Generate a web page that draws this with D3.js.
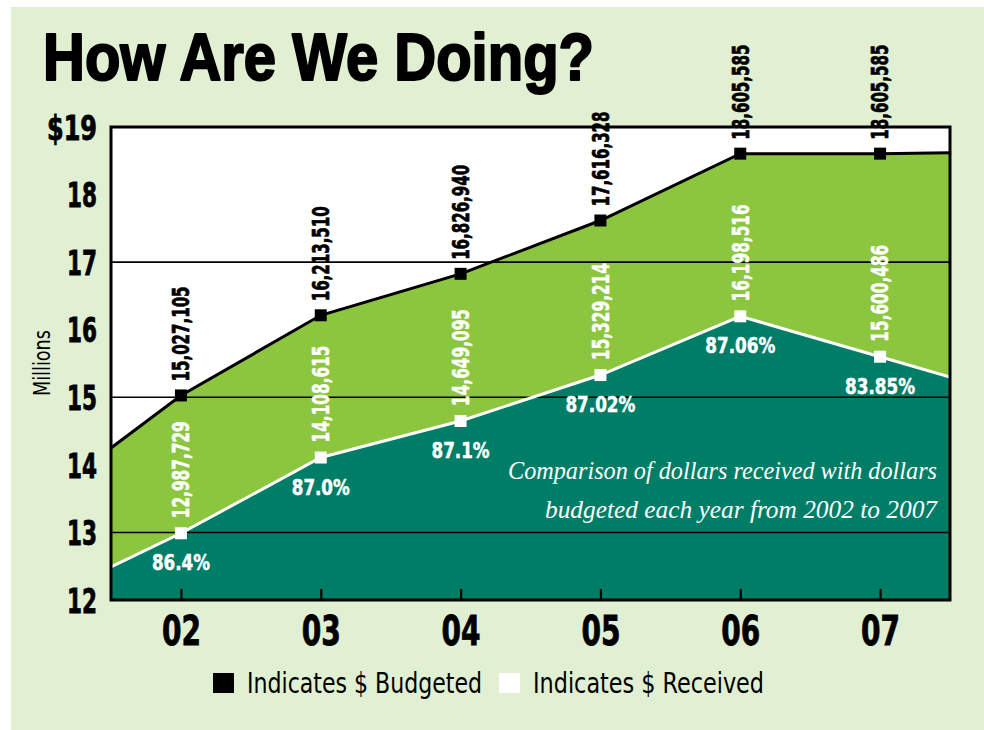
<!DOCTYPE html>
<html><head><meta charset="utf-8">
<script src="https://cdn.jsdelivr.net/npm/d3@7"></script>
<style>body{margin:0;background:#fff} svg{display:block}</style>
</head><body>
<svg id="c" width="984" height="730"></svg>
<script>
// ---- data ----
const years = ["02","03","04","05","06","07"];
const budgeted = [15.027105, 16.213510, 16.826940, 17.616328, 18.605585, 18.605585];
const received = [12.987729, 14.108615, 14.649095, 15.329214, 16.198516, 15.600486];
const budgetedLabels = ["15,027,105","16,213,510","16,826,940","17,616,328","18,605,585","18,605,585"];
const receivedLabels = ["12,987,729","14,108,615","14,649,095","15,329,214","16,198,516","15,600,486"];
const percentLabels = ["86.4%","87.0%","87.1%","87.02%","87.06%","83.85%"];
const budgetedEdges = [14.25, 18.62];   // where the budget line meets the left / right plot edge
const receivedEdges = [12.49, 15.30];   // where the received line meets the left / right plot edge
const yTicks = [12,13,14,15,16,17,18,19];
const yTickLabels = ["12","13","14","15","16","17","18","$19"];
const gridValues = [13,15,17];
const legendItems = ["Indicates $ Budgeted","Indicates $ Received"];
const captionLines = ["Comparison of dollars received with dollars","budgeted each year from 2002 to 2007"];

// ---- layout ----
const C = {bg:"#e1efd3", light:"#8cc63f", dark:"#007d67"};
const L = 111, R = 950, T = 127, B = 600;
const svg = d3.select("#c");
const cond = "'DejaVu Sans Condensed','Liberation Sans Narrow','DejaVu Sans',sans-serif";
const fit = (sel, w) => sel.attr("textLength", w).attr("lengthAdjust","spacingAndGlyphs");

svg.append("rect").attr("x",11).attr("y",7).attr("width",973).attr("height",723).attr("fill",C.bg);

const x = d3.scaleLinear().domain([-0.5, years.length-0.5]).range([L, R]);
const y = d3.scaleLinear().domain([12,19]).range([B, T]);

const series = (vals, edges) => [{i:-0.5, v:edges[0]}, ...vals.map((v,i)=>({i, v})), {i:years.length-0.5, v:edges[1]}];
const bPts = series(budgeted, budgetedEdges);
const rPts = series(received, receivedEdges);

svg.append("defs").append("clipPath").attr("id","plot")
  .append("rect").attr("x",L).attr("y",T).attr("width",R-L).attr("height",B-T);

const g = svg.append("g").attr("clip-path","url(#plot)");
g.append("rect").attr("x",L).attr("y",T).attr("width",R-L).attr("height",B-T).attr("fill","#fff");

const area = d3.area().x(d=>x(d.i)).y0(y(12)).y1(d=>y(d.v));
const line = d3.line().x(d=>x(d.i)).y(d=>y(d.v));
g.append("path").attr("d", area(bPts)).attr("fill", C.light);
g.append("path").attr("d", area(rPts)).attr("fill", C.dark);

g.selectAll(".grid").data(gridValues).join("line")
  .attr("x1",L).attr("x2",R).attr("y1",d=>y(d)).attr("y2",d=>y(d))
  .attr("stroke","#000").attr("stroke-width",1.6);

g.append("path").attr("d", line(bPts)).attr("fill","none").attr("stroke","#000").attr("stroke-width",3);
g.append("path").attr("d", line(rPts)).attr("fill","none").attr("stroke","#fff").attr("stroke-width",3);

// axes
const xAxis = svg.append("g").attr("transform",`translate(0,${B})`)
  .call(d3.axisBottom(x).tickValues(d3.range(years.length)).tickFormat(i=>years[i]).tickSizeInner(-11).tickSizeOuter(0));
xAxis.select(".domain").remove();
xAxis.selectAll(".tick line").attr("stroke","#000").attr("stroke-width",2.2);
xAxis.selectAll(".tick text").attr("y",45).attr("dy",0)
  .attr("font-family",cond).attr("font-weight","bold").attr("font-size",41).attr("fill","#000")
  .attr("stroke","#000").attr("stroke-width",0.8)
  .call(fit, 39);

const yAxis = svg.append("g").attr("transform",`translate(${L},0)`)
  .call(d3.axisLeft(y).tickValues(yTicks).tickFormat((d,i)=>yTickLabels[i]).tickSize(0).tickPadding(14));
yAxis.select(".domain").remove();
yAxis.selectAll(".tick text").attr("dy","0.36em")
  .attr("font-family",cond).attr("font-weight","bold").attr("font-size",34).attr("fill","#000")
  .attr("stroke","#000").attr("stroke-width",0.8)
  .each(function(d,i){ const s = yTickLabels[i]; d3.select(this).call(fit, s.length*15 + (s.includes("$")?5:0)); });

svg.append("text").attr("transform","translate(50,363) rotate(-90)").attr("text-anchor","middle")
  .attr("font-family",cond).attr("font-size",23).attr("fill","#000").text("Millions").call(fit, 66);

// border
svg.append("rect").attr("x",L).attr("y",T).attr("width",R-L).attr("height",B-T)
  .attr("fill","none").attr("stroke","#000").attr("stroke-width",3);

// markers
const ms = 12;
svg.selectAll(".mb").data(budgeted).join("rect")
  .attr("x",(d,i)=>x(i)-ms/2).attr("y",d=>y(d)-ms/2).attr("width",ms).attr("height",ms).attr("fill","#000");
svg.selectAll(".mr").data(received).join("rect")
  .attr("x",(d,i)=>x(i)-ms/2).attr("y",d=>y(d)-ms/2).attr("width",ms).attr("height",ms).attr("fill","#fff");

// value labels
svg.selectAll(".lb").data(budgeted).join("text")
  .attr("transform",(d,i)=>`translate(${x(i)},${y(d)-14}) rotate(-90)`)
  .attr("dy","0.36em").attr("font-family",cond).attr("font-weight","bold").attr("font-size",23)
  .attr("fill","#000").attr("stroke","#000").attr("stroke-width",0.7)
  .text((d,i)=>budgetedLabels[i]).call(fit, 95);
svg.selectAll(".lr").data(received).join("text")
  .attr("transform",(d,i)=>`translate(${x(i)},${y(d)-15}) rotate(-90)`)
  .attr("dy","0.36em").attr("font-family",cond).attr("font-weight","bold").attr("font-size",23)
  .attr("fill","#fff").attr("stroke","#fff").attr("stroke-width",0.5)
  .text((d,i)=>receivedLabels[i]).call(fit, 97);
svg.selectAll(".lp").data(received).join("text")
  .attr("x",(d,i)=>x(i)).attr("y",d=>y(d)+37).attr("text-anchor","middle")
  .attr("font-family",cond).attr("font-weight","bold").attr("font-size",22)
  .attr("fill","#fff").attr("stroke","#fff").attr("stroke-width",0.5)
  .text((d,i)=>percentLabels[i])
  .each(function(d,i){ d3.select(this).call(fit, percentLabels[i].length*12 - 2); });

// caption
const capX = [508, 545], capY = [479, 518], capW = [429, 392];
svg.selectAll(".cap").data(captionLines).join("text")
  .attr("x",(d,i)=>capX[i]).attr("y",(d,i)=>capY[i])
  .attr("font-family","'Liberation Serif','Times New Roman',serif").attr("font-style","italic").attr("font-size",25)
  .attr("fill","#fff").text(d=>d)
  .each(function(d,i){ d3.select(this).call(fit, capW[i]); });

// title
svg.append("text").attr("x",43).attr("y",80)
  .attr("font-family","'Liberation Sans',Arial,sans-serif").attr("font-weight","bold").attr("font-size",67)
  .attr("fill","#000").attr("stroke","#000").attr("stroke-width",2.2).attr("stroke-linejoin","round")
  .text("How Are We Doing?").call(fit, 551);

// legend
const legX = [213, 499], legFill = ["#000","#fff"], legW = [235, 231];
const leg = svg.selectAll(".leg").data(legendItems).join("g").attr("transform",(d,i)=>`translate(${legX[i]},673)`);
leg.append("rect").attr("width",21).attr("height",20).attr("fill",(d,i)=>legFill[i]);
leg.append("text").attr("x",34).attr("y",20).attr("font-family",cond).attr("font-size",28)
  .attr("fill","#000").text(d=>d)
  .each(function(d,i){ d3.select(this).call(fit, legW[i]); });
</script>
</body></html>
